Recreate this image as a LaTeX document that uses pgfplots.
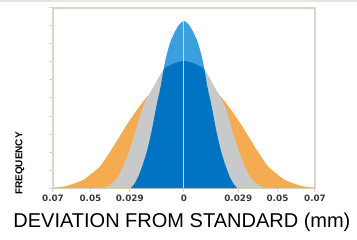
\documentclass[border=0pt]{standalone}
\usepackage{pgfplots}
\pgfplotsset{compat=1.18}
\usepackage{fontspec}
\setmainfont{Liberation Sans}
\newfontfamily\dejavu{DejaVu Sans}
\definecolor{orangec}{HTML}{F5AB4F}
\definecolor{grayc}{HTML}{C8C9CA}
\definecolor{lbluec}{HTML}{3A9FDC}
\definecolor{dbluec}{HTML}{0074C2}
\definecolor{linec}{HTML}{B8DDF3}
\definecolor{framec}{HTML}{D8D5CA}
\definecolor{tickc}{HTML}{3A3A3A}
\definecolor{bandc}{HTML}{E6E6E6}
\begin{document}
\begin{tikzpicture}
\begin{axis}[
  scale only axis, width=262bp, height=180bp,
  at={(0,0)}, anchor=south west,
  xmin=-0.07, xmax=0.07, ymin=0, ymax=10,
  axis line style={draw=framec, line width=1.2bp},
  tick pos=left, tick align=outside,
  scaled x ticks=false,
  xtick={-0.07,-0.05,-0.029,0,0.029,0.05,0.07},
  xticklabels={0.07,0.05,0.029,0,0.029,0.05,0.07},
  ytick={0,1,2,3,4,5,6,7,8,9,10}, yticklabels={},
  major tick length=3.5bp,
  tick style={draw=framec, line width=1bp},
  xticklabel style={font=\dejavu\bfseries\fontsize{8.8bp}{10bp}\selectfont, text=tickc},
  xlabel={DEVIATION FROM STANDARD (mm)},
  xlabel style={at={(axis description cs:0.492,-0.2167)}, anchor=base, font=\fontsize{20bp}{24bp}\selectfont, text=black},
  ylabel={FREQUENCY},
  ylabel style={at={(axis description cs:-0.126,0.136)}, anchor=center, font=\bfseries\fontsize{10bp}{12bp}\selectfont, text=black},
  clip=true,
  every axis plot/.append style={smooth, tension=0.45},
]
% orange (widest)
\addplot[fill=orangec, draw=none] table {
x y
-0.070 0
-0.066 0.05
-0.0615 0.15
-0.054 0.44
-0.050 0.75
-0.0449 1.2
-0.0396 2.0
-0.0342 2.9
-0.0294 3.7
-0.0219 4.8
-0.015 5.6
-0.010 6.1
-0.005 6.4
0 6.5
0.005 6.4
0.010 6.1
0.015 5.6
0.0219 4.8
0.0294 3.7
0.0342 2.9
0.0396 2.0
0.0449 1.2
0.050 0.75
0.054 0.44
0.0615 0.15
0.066 0.05
0.070 0
} \closedcycle;
% gray
\addplot[fill=grayc, draw=none] table {
x y
-0.045 0
-0.0415 0.07
-0.0385 0.25
-0.0355 0.6
-0.0326 1.17
-0.0295 2.0
-0.0262 3.06
-0.0230 4.2
-0.0203 4.9
-0.0166 5.56
-0.0128 6.28
-0.0102 6.67
-0.0053 6.92
0 7.06
0.0053 6.92
0.0102 6.67
0.0128 6.28
0.0166 5.56
0.0203 4.9
0.0230 4.2
0.0262 3.06
0.0295 2.0
0.0326 1.17
0.0355 0.6
0.0385 0.25
0.0415 0.07
0.045 0
} \closedcycle;
% light blue (narrow, tall)
\addplot[fill=lbluec, draw=none] table {
x y
-0.0283 0
-0.0265 0.22
-0.0245 0.6
-0.0224 1.17
-0.0200 1.95
-0.0174 3.08
-0.0158 3.95
-0.0142 4.8
-0.0132 5.25
-0.0122 5.75
-0.0112 6.4
-0.0100 7.08
-0.0085 7.7
-0.0069 8.22
-0.0045 8.75
-0.0027 9.06
0 9.28
0.0027 9.06
0.0045 8.75
0.0069 8.22
0.0085 7.7
0.0100 7.08
0.0112 6.4
0.0122 5.75
0.0132 5.25
0.0142 4.8
0.0158 3.95
0.0174 3.08
0.0200 1.95
0.0224 1.17
0.0245 0.6
0.0265 0.22
0.0283 0
} \closedcycle;
% dark blue (overlap)
\addplot[fill=dbluec, draw=none] table {
x y
-0.0283 0
-0.0265 0.22
-0.0245 0.6
-0.0224 1.17
-0.0200 1.95
-0.0174 3.08
-0.0158 3.95
-0.0142 4.8
-0.0132 5.25
-0.0122 5.75
-0.0112 6.4
-0.0108 6.58
-0.0102 6.67
-0.0053 6.92
0 7.06
0.0053 6.92
0.0102 6.67
0.0108 6.58
0.0112 6.4
0.0122 5.75
0.0132 5.25
0.0142 4.8
0.0158 3.95
0.0174 3.08
0.0200 1.95
0.0224 1.17
0.0245 0.6
0.0265 0.22
0.0283 0
} \closedcycle;
% centre line
\addplot[draw=linec, line width=1bp, sharp plot] coordinates {(0,0) (0,9.28)};
\end{axis}
\fill[bandc] (-53bp,185.5bp) rectangle (304bp,188bp);
\path[use as bounding box] (-53bp,-52bp) rectangle (304bp,188bp);
\end{tikzpicture}
\end{document}
